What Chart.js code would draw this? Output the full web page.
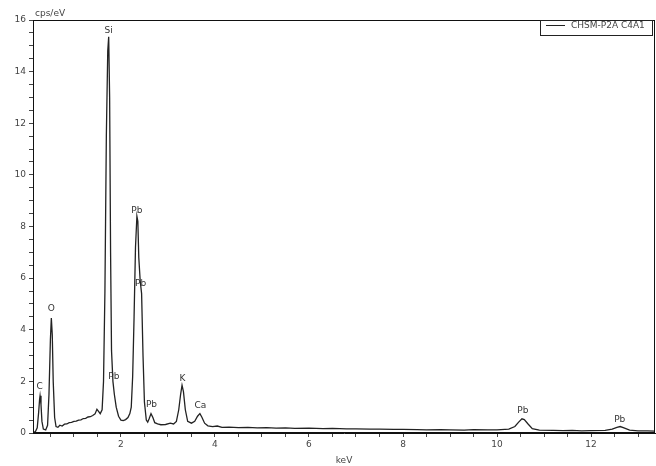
<!DOCTYPE html>
<html>
<head>
<meta charset="utf-8">
<script src="https://cdn.jsdelivr.net/npm/chart.js@4.4.0/dist/chart.umd.min.js"></script>
<style>
  html, body { margin: 0; padding: 0; background: #fff; }
</style>
</head>
<body>
<canvas id="chart" width="656" height="466"></canvas>
<script>
// EDS spectrum (keV / cps per eV)
const energies = [
  0.13, 0.18, 0.22, 0.25, 0.27, 0.28, 0.30, 0.32, 0.35, 0.40,
  0.44, 0.47, 0.50, 0.52, 0.54, 0.56, 0.59, 0.62, 0.66, 0.70,
  0.75, 0.80, 0.85, 0.90, 0.95, 1.00, 1.05, 1.10, 1.15, 1.20,
  1.25, 1.30, 1.35, 1.40, 1.45, 1.49, 1.52, 1.56, 1.60, 1.63,
  1.66, 1.69, 1.72, 1.74, 1.76, 1.78, 1.80, 1.83, 1.86, 1.90,
  1.95, 2.00, 2.05, 2.10, 2.15, 2.19, 2.22, 2.25, 2.28, 2.31,
  2.34, 2.36, 2.38, 2.41, 2.44, 2.47, 2.50, 2.54, 2.57, 2.60,
  2.64, 2.68, 2.72, 2.78, 2.85, 2.95, 3.05, 3.12, 3.18, 3.23,
  3.27, 3.30, 3.33, 3.37, 3.42, 3.50, 3.57, 3.63, 3.68, 3.72,
  3.78, 3.85, 3.95, 4.05, 4.15, 4.30, 4.50, 4.70, 4.90, 5.10,
  5.30, 5.50, 5.70, 6.00, 6.30, 6.50, 6.80, 7.00, 7.30, 7.50,
  7.80, 8.00, 8.30, 8.50, 8.80, 9.00, 9.30, 9.50, 9.80, 10.00,
  10.25, 10.38, 10.46, 10.53, 10.58, 10.66, 10.75, 10.90, 11.20, 11.40,
  11.60, 11.80, 12.00, 12.30, 12.45, 12.55, 12.62, 12.70, 12.82, 13.00,
  13.20, 13.36
];
const counts = [
  0.02, 0.05, 0.20, 0.80, 1.30, 1.44, 1.10, 0.45, 0.15, 0.12,
  0.30, 1.50, 3.60, 4.45, 3.80, 2.00, 0.60, 0.25, 0.22, 0.30,
  0.27, 0.34, 0.35, 0.40, 0.41, 0.45, 0.46, 0.50, 0.51, 0.56,
  0.57, 0.62, 0.63, 0.68, 0.74, 0.92, 0.85, 0.75, 0.90, 2.00,
  5.50, 11.50, 14.80, 15.35, 13.00, 7.00, 3.20, 2.00, 1.50, 1.00,
  0.65, 0.50, 0.48, 0.52, 0.60, 0.75, 1.00, 2.20, 4.50, 7.20,
  8.40, 8.20, 6.80, 5.90, 5.40, 3.00, 1.20, 0.50, 0.42, 0.55,
  0.75, 0.60, 0.40, 0.35, 0.32, 0.33, 0.38, 0.35, 0.45, 0.90,
  1.50, 1.85, 1.60, 0.90, 0.45, 0.38, 0.45, 0.65, 0.75, 0.62,
  0.38, 0.28, 0.25, 0.27, 0.22, 0.23, 0.21, 0.22, 0.20, 0.21,
  0.19, 0.20, 0.18, 0.19, 0.17, 0.18, 0.16, 0.16, 0.15, 0.15,
  0.14, 0.14, 0.13, 0.12, 0.13, 0.12, 0.11, 0.13, 0.12, 0.12,
  0.15, 0.25, 0.42, 0.55, 0.52, 0.35, 0.17, 0.11, 0.10, 0.09,
  0.10, 0.08, 0.09, 0.10, 0.15, 0.22, 0.25, 0.20, 0.11, 0.08,
  0.08, 0.07
];

// element labels over the peaks
const peakNames = ['C', 'O', 'Si', 'Pb', 'Pb', 'Pb', 'Pb', 'K', 'Ca', 'Pb', 'Pb'];
const peakEnergies = [0.27, 0.52, 1.74, 1.85, 2.34, 2.42, 2.65, 3.31, 3.69, 10.55, 12.61];
const peakLabelHeights = [1.80, 4.80, 15.60, 2.20, 8.60, 5.80, 1.10, 2.10, 1.05, 0.85, 0.50];

const seriesName = 'CHSM-P2A C4A1';
const yUnit = 'cps/eV';
const xUnit = 'keV';

const points = energies.map((e, i) => ({ x: e, y: counts[i] }));
const labelFont = '9px "DejaVu Sans", Verdana, sans-serif';

const decorations = {
  id: 'decorations',
  afterDatasetsDraw(chart) {
    const { ctx, chartArea: a, scales: { x, y } } = chart;
    ctx.save();
    // frame round the plot
    ctx.strokeStyle = '#111';
    ctx.lineWidth = 1;
    ctx.strokeRect(a.left + 0.5, a.top + 0.5, a.right - a.left - 1, a.bottom - a.top - 1);

    // peak labels
    ctx.font = labelFont;
    ctx.fillStyle = '#333';
    ctx.textAlign = 'center';
    ctx.textBaseline = 'middle';
    peakNames.forEach((n, i) => {
      ctx.fillText(n, x.getPixelForValue(peakEnergies[i]), y.getPixelForValue(peakLabelHeights[i]));
    });

    // unit above the y axis
    ctx.fillStyle = '#444';
    ctx.textAlign = 'left';
    ctx.textBaseline = 'bottom';
    ctx.fillText(yUnit, a.left + 2, a.top - 2);

    // legend box, top right
    const bw = 112, bh = 15;
    const bx = a.right - 3 - bw, by = a.top;
    ctx.fillStyle = '#fff';
    ctx.fillRect(bx, by, bw, bh);
    ctx.strokeStyle = '#222';
    ctx.strokeRect(bx + 0.5, by + 0.5, bw, bh);
    ctx.beginPath();
    ctx.moveTo(bx + 6, by + 5.5);
    ctx.lineTo(bx + 25, by + 5.5);
    ctx.stroke();
    ctx.fillStyle = '#444';
    ctx.textBaseline = 'middle';
    ctx.fillText(seriesName, bx + 31, by + 6);
    ctx.restore();
  }
};

new Chart(document.getElementById('chart'), {
  type: 'line',
  data: {
    datasets: [{
      label: seriesName,
      data: points,
      borderColor: '#222',
      borderWidth: 1.3,
      pointRadius: 0,
      tension: 0,
      fill: false
    }]
  },
  options: {
    responsive: false,
    animation: false,
    layout: { padding: { top: 20, right: 1, left: 0, bottom: 0 } },
    plugins: {
      legend: { display: false },
      tooltip: { enabled: false }
    },
    scales: {
      x: {
        type: 'linear',
        min: 0.13,
        max: 13.36,
        afterFit: s => { s.height = 33; },
        border: { display: true, color: '#111' },
        grid: { drawOnChartArea: false, drawTicks: true, tickLength: 4, color: '#444' },
        ticks: {
          stepSize: 0.5,
          includeBounds: false,
          autoSkip: false,
          maxRotation: 0,
          padding: 2,
          color: '#444',
          font: { family: '"DejaVu Sans", Verdana, sans-serif', size: 9 },
          callback: v => (v > 0 && v % 2 === 0) ? v : ''
        },
        title: {
          display: true,
          text: xUnit,
          color: '#444',
          padding: { top: 1, bottom: 0 },
          font: { family: '"DejaVu Sans", Verdana, sans-serif', size: 9 }
        }
      },
      y: {
        min: 0,
        max: 16,
        afterFit: s => { s.width = 33; },
        border: { display: true, color: '#111' },
        grid: { drawOnChartArea: false, drawTicks: true, tickLength: 4, color: '#444' },
        ticks: {
          stepSize: 0.5,
          autoSkip: false,
          padding: 3,
          color: '#444',
          font: { family: '"DejaVu Sans", Verdana, sans-serif', size: 9 },
          callback: v => (v % 2 === 0) ? v : ''
        }
      }
    }
  },
  plugins: [decorations]
});
</script>
</body>
</html>
